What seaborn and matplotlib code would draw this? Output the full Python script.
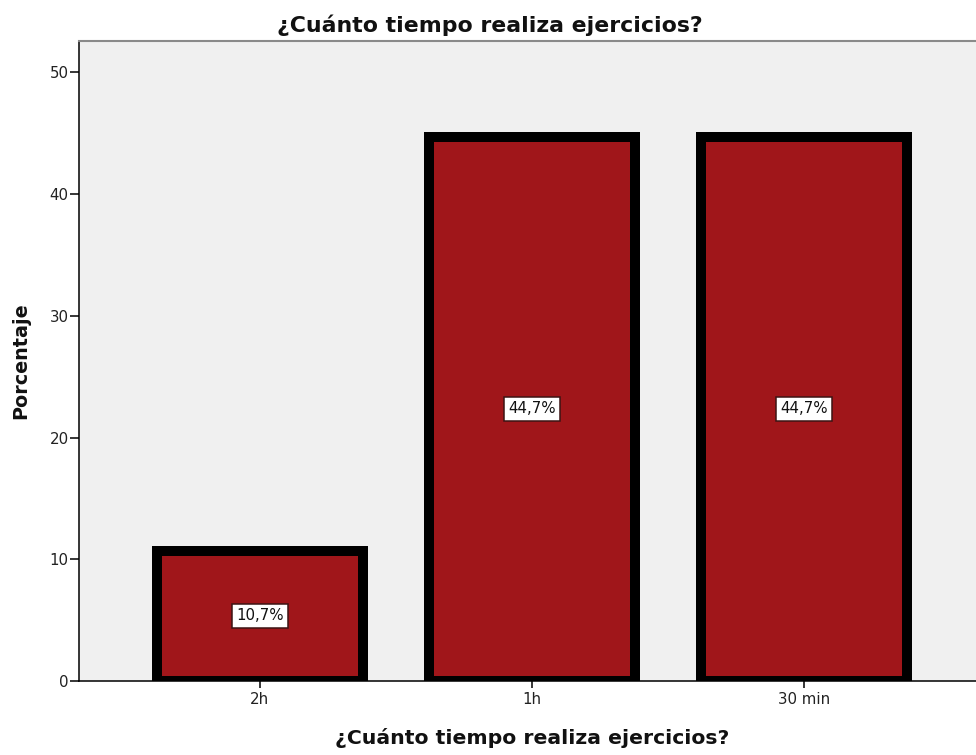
import matplotlib
matplotlib.use('Agg')
import matplotlib.pyplot as plt
import seaborn as sns

# values
categorias = ['2h', '1h', '30 min']
porcentajes = [10.7, 44.7, 44.7]
etiquetas = ['10,7%', '44,7%', '44,7%']
yticks = [0, 10, 20, 30, 40, 50]

titulo = '¿Cuánto tiempo realiza ejercicios?'

sns.set_style('white')
plt.rcParams['font.family'] = ['DejaVu Sans']

fig = plt.figure(figsize=(9.76, 7.55), dpi=100)
ax = fig.add_axes([0.081, 0.098, 0.928, 0.848])
ax.set_facecolor('#f0f0f0')

sns.barplot(x=categorias, y=porcentajes, color='#a0161a', edgecolor='black',
            linewidth=7.2, width=0.755, saturation=1, ax=ax)

# value labels in white boxes at the middle of each bar
for i, (v, lab) in enumerate(zip(porcentajes, etiquetas)):
    ax.text(i, v / 2, lab, ha='center', va='center', fontsize=10.8, color='#111111',
            bbox=dict(boxstyle='square,pad=0.3', facecolor='white', edgecolor='#3c1414', linewidth=1.1))

ax.set_xlim(-0.665, 2.665)
ax.set_ylim(0, 52.6)
ax.set_yticks(yticks)
ax.tick_params(axis='y', direction='out', length=6.5, width=1.1, pad=1, colors='black',
               labelsize=10.8, left=True)
ax.tick_params(axis='x', direction='out', length=5, width=1.1, pad=3, colors='black',
               labelsize=10.8, bottom=True)
for lab in ax.get_xticklabels() + ax.get_yticklabels():
    lab.set_color('#222222')

for s in ['left', 'bottom']:
    ax.spines[s].set_color('black')
    ax.spines[s].set_linewidth(1.1)
ax.spines['top'].set_color('#8a8a8a')
ax.spines['top'].set_linewidth(1.5)
ax.spines['right'].set_visible(False)

ax.set_xlabel(titulo, fontsize=14.7, fontweight='bold', color='#111111')
ax.xaxis.set_label_coords(0.5, -0.073)
ax.set_ylabel('Porcentaje', fontsize=13.8, fontweight='bold', color='#111111')
ax.yaxis.set_label_coords(-0.054, 0.5)
fig.text(0.502, 0.9576, titulo, ha='center', va='baseline', fontsize=15.8,
         fontweight='bold', color='#111111')

fig.savefig('out.png', dpi=100)
